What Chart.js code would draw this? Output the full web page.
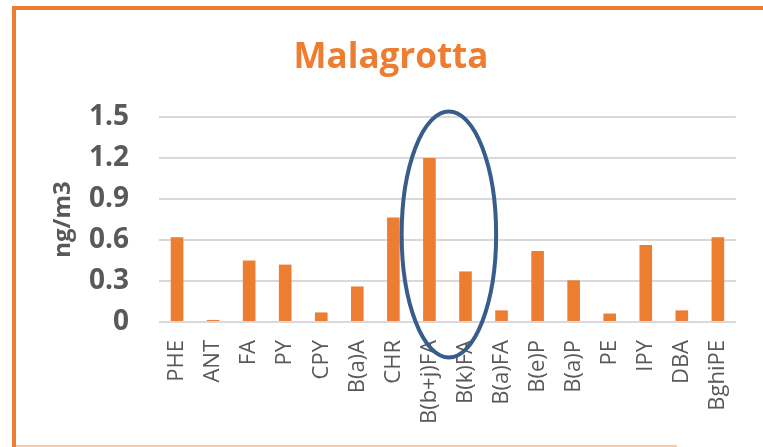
<!DOCTYPE html>
<html>
<head>
<meta charset="utf-8">
<script src="https://cdn.jsdelivr.net/npm/chart.js@4"></script>
<style>
  html, body { margin: 0; padding: 0; background: #fff; }
  #wrap { position: relative; width: 763px; height: 447px; overflow: hidden; }
  canvas { position: absolute; left: 0; top: 0; }
  .frame { position: absolute; }
</style>
</head>
<body>
<div id="wrap">
  <canvas id="c" width="763" height="447"></canvas>
  <div class="frame" style="left:12px; top:6px; width:751px; height:4px; background:#ED7D31;"></div>
  <div class="frame" style="left:12px; top:6px; width:4px; height:441px; background:#ED7D31;"></div>
  <div class="frame" style="left:16px; top:445px; width:661px; height:2px; background:#F8CBAD;"></div>
</div>
<script>
// ---- data ----
const categories = ['PHE','ANT','FA','PY','CPY','B(a)A','CHR','B(b+j)FA','B(k)FA','B(a)FA','B(e)P','B(a)P','PE','IPY','DBA','BghiPE'];
const concentrations = [0.62, 0.015, 0.45, 0.42, 0.07, 0.26, 0.765, 1.2, 0.37, 0.085, 0.52, 0.305, 0.062, 0.563, 0.085, 0.62];
const yTicks = [0, 0.3, 0.6, 0.9, 1.2, 1.5];
const chartTitle = 'Malagrotta';
const yAxisTitle = 'ng/m3';
// highlight ellipse, in data units (category index / value)
const highlight = { cx: 7.54, cy: 0.64, rx: 1.31, ry: 0.9 };

const ORANGE = '#ED7D31';
const GREY = '#595959';

const ellipsePlugin = {
  id: 'ellipse',
  afterDraw(chart) {
    const x = chart.scales.x, y = chart.scales.y;
    const cx = x.getPixelForValue(highlight.cx);
    const cy = y.getPixelForValue(highlight.cy);
    const rx = Math.abs(x.getPixelForValue(highlight.cx + highlight.rx) - cx);
    const ry = Math.abs(y.getPixelForValue(highlight.cy + highlight.ry) - cy);
    const ctx = chart.ctx;
    ctx.save();
    ctx.beginPath();
    ctx.ellipse(cx, cy, rx, ry, 0, 0, Math.PI * 2);
    ctx.strokeStyle = '#385D8A';
    ctx.lineWidth = 4;
    ctx.stroke();
    ctx.restore();
  }
};

new Chart(document.getElementById('c'), {
  type: 'bar',
  data: {
    labels: categories,
    datasets: [{
      data: concentrations,
      backgroundColor: ORANGE,
      borderWidth: 0,
      categoryPercentage: 1,
      barPercentage: 0.35
    }]
  },
  options: {
    responsive: false,
    animation: false,
    layout: { padding: { left: 42, right: 23, top: 10, bottom: 0 } },
    plugins: {
      legend: { display: false },
      tooltip: { enabled: false },
      title: {
        display: true,
        text: chartTitle,
        color: ORANGE,
        font: { family: 'Open Sans', size: 35, weight: 'bold', lineHeight: 1.2 },
        padding: { top: 27, bottom: 38 }
      }
    },
    scales: {
      x: {
        grid: { display: false, drawTicks: false },
        border: { display: false },
        ticks: {
          color: GREY,
          font: { family: 'Open Sans', size: 22 },
          minRotation: 90, maxRotation: 90, autoSkip: false,
          padding: 18
        },
        afterFit(s) { s.height = 125; }
      },
      y: {
        min: 0, max: 1.5,
        afterBuildTicks(s) { s.ticks = yTicks.map(v => ({ value: v })); },
        grid: { color: '#D9D9D9', lineWidth: 2, drawTicks: false },
        border: { display: false },
        ticks: {
          color: GREY,
          font: { family: 'Open Sans', size: 28, weight: 'bold' },
          padding: 30,
          callback: v => String(v)
        },
        title: {
          display: true,
          text: yAxisTitle,
          color: GREY,
          font: { family: 'Open Sans', size: 24, weight: 'bold', lineHeight: 1.2 },
          padding: { top: 7, bottom: 8 }
        },
        afterFit(s) { s.width = 117; }
      }
    }
  },
  plugins: [ellipsePlugin]
});
</script>
</body>
</html>
